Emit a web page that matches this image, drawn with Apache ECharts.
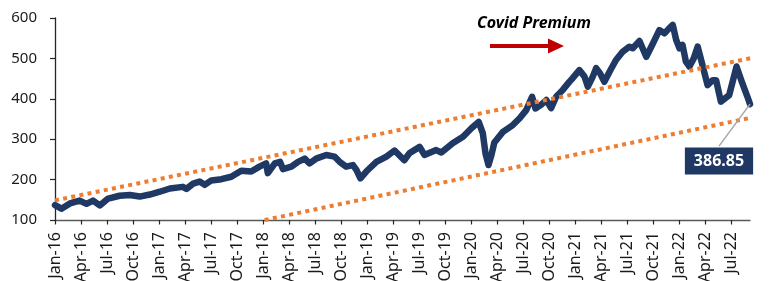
<!DOCTYPE html>
<html lang="en">
<head>
<meta charset="UTF-8">
<title>Covid Premium</title>
<script src="https://cdn.jsdelivr.net/npm/echarts@6/dist/echarts.min.js"></script>
<style>
    html, body { margin: 0; padding: 0; background: #fff; }
    #chart { width: 775px; height: 281px; }
</style>
</head>
<body>
<div id="chart"></div>
<script type="text/javascript">
    // price series
    var dates = [
        '2016-01-01', '2016-01-24', '2016-02-22', '2016-03-27', '2016-04-20', '2016-05-13', '2016-06-06', '2016-07-05',
        '2016-08-15', '2016-09-20', '2016-10-25', '2016-11-29', '2017-01-04', '2017-02-08', '2017-03-24', '2017-04-06',
        '2017-04-29', '2017-05-22', '2017-06-09', '2017-07-02', '2017-08-07', '2017-09-11', '2017-10-16', '2017-11-20',
        '2017-12-19', '2018-01-12', '2018-01-18', '2018-02-11', '2018-02-28', '2018-03-10', '2018-04-09', '2018-05-02',
        '2018-05-26', '2018-06-12', '2018-07-05', '2018-08-10', '2018-09-08', '2018-09-26', '2018-10-19', '2018-11-12',
        '2018-11-24', '2018-12-08', '2018-12-29', '2019-02-03', '2019-03-08', '2019-04-06', '2019-05-10', '2019-05-28',
        '2019-07-03', '2019-07-20', '2019-08-31', '2019-09-18', '2019-10-28', '2019-12-03', '2020-01-02', '2020-01-28',
        '2020-02-11', '2020-02-20', '2020-03-01', '2020-03-12', '2020-03-22', '2020-04-21', '2020-05-26', '2020-06-19',
        '2020-07-12', '2020-08-02', '2020-08-14', '2020-09-03', '2020-09-21', '2020-10-08', '2020-10-26', '2020-11-18',
        '2020-12-11', '2020-12-23', '2021-01-16', '2021-02-03', '2021-02-14', '2021-03-02', '2021-03-14', '2021-03-28',
        '2021-04-12', '2021-04-30', '2021-05-23', '2021-06-16', '2021-07-09', '2021-07-21', '2021-08-14', '2021-09-07',
        '2021-09-30', '2021-10-23', '2021-11-10', '2021-11-27', '2021-12-09', '2021-12-21', '2022-01-02', '2022-01-13',
        '2022-01-25', '2022-02-06', '2022-02-20', '2022-03-05', '2022-03-22', '2022-04-09', '2022-04-27', '2022-05-09',
        '2022-05-26', '2022-06-24', '2022-07-20', '2022-08-10', '2022-08-28', '2022-09-06'
    ]
    var prices = [
        137, 128, 141, 148, 140, 148, 136, 153,
        160, 162, 158, 163, 170, 178, 182, 177,
        190, 195, 187, 198, 201, 207, 222, 220,
        232, 240, 216, 240, 244, 226, 232, 244,
        252, 240, 252, 261, 257, 244, 232, 236,
        224, 203, 220, 244, 257, 272, 248, 265,
        281, 261, 273, 267, 290, 306, 327, 343,
        315, 265, 236, 262, 292, 318, 335, 352,
        372, 405, 376, 385, 397, 377, 405, 422,
        442, 451, 471, 455, 430, 455, 476, 463,
        442, 467, 496, 517, 529, 525, 543, 504,
        537, 570, 562, 575, 583, 546, 525, 533,
        492, 480, 500, 529, 484, 434, 446, 446,
        393, 409, 480, 438, 405, 386.85
    ]
    // dotted trend channel
    var upperDates = ['2016-01-01', '2023-01-01']
    var upperValues = [148.6, 517]
    var lowerDates = ['2018-01-07', '2023-01-01']
    var lowerValues = [100, 370]
    var monthNames = ['Jan', 'Feb', 'Mar', 'Apr', 'May', 'Jun', 'Jul', 'Aug', 'Sep', 'Oct', 'Nov', 'Dec']
    var yTicks = [100, 200, 300, 400, 500, 600]

    var navy = '#203864'
    var orange = '#ED7D31'
    var font = 'Noto Sans'

    // months since Jan-16, so quarter ticks fall on multiples of 3
    function toMonths(d) {
        var p = d.split('-').map(Number)
        var dim = new Date(p[0], p[1], 0).getDate()
        return (p[0] - 2016) * 12 + (p[1] - 1) + (p[2] - 1) / dim
    }
    function pairs(ds, vs) {
        return ds.map(function (d, i) { return [toMonths(d), vs[i]] })
    }
    function tickLabel(v) {
        if (Math.abs(v - Math.round(v / 3) * 3) > 1e-6) return ''
        var y = 16 + Math.floor(v / 12)
        return monthNames[Math.round(v) % 12] + '-' + y
    }

    var priceData = pairs(dates, prices)
    var last = priceData[priceData.length - 1]
    var calloutDx = -31, calloutDy = 57

    var myChart = echarts.init(document.getElementById('chart'))
    var option = {
        animation: false,
        backgroundColor: '#fff',
        grid: {
            left: 55, right: 25, top: 18, bottom: 61,
            containLabel: false,
            outerBoundsMode: 'none'
        },
        xAxis: {
            type: 'value',
            min: 0,
            max: last[0],
            interval: 3,
            axisLine: { show: true, lineStyle: { color: '#595959', width: 1.3 } },
            axisTick: { show: true, length: 4.5, lineStyle: { color: '#262626', width: 1.2 } },
            axisLabel: {
                rotate: 90,
                margin: 12,
                fontFamily: font,
                fontSize: 16,
                color: '#1a1a1a',
                showMaxLabel: false,
                formatter: tickLabel
            },
            splitLine: { show: false }
        },
        yAxis: {
            type: 'value',
            min: yTicks[0],
            max: yTicks[yTicks.length - 1],
            interval: 100,
            axisLine: { show: true, lineStyle: { color: '#262626', width: 1.3 } },
            axisTick: { show: true, length: 5, lineStyle: { color: '#262626', width: 1.2 } },
            axisLabel: { margin: 18, fontFamily: font, fontSize: 15, color: '#1a1a1a' },
            splitLine: { show: false }
        },
        series: [
            {
                name: 'price',
                type: 'line',
                data: priceData,
                symbol: 'none',
                lineStyle: { color: navy, width: 6.5, join: 'round', cap: 'round' },
                z: 2
            },
            {
                name: 'upper',
                type: 'line',
                data: pairs(upperDates, upperValues),
                symbol: 'none',
                clip: false,
                lineStyle: { color: orange, width: 4, type: [4, 4.3], cap: 'butt' },
                z: 3
            },
            {
                name: 'lower',
                type: 'line',
                data: pairs(lowerDates, lowerValues),
                symbol: 'none',
                clip: false,
                lineStyle: { color: orange, width: 4, type: [4, 4.3], cap: 'butt' },
                z: 3
            },
            {
                // last value call-out
                name: 'last',
                type: 'scatter',
                data: [last],
                symbolSize: 0,
                itemStyle: { opacity: 1 },
                z: 4,
                label: {
                    show: true,
                    position: 'inside',
                    formatter: function (p) { return p.value[1].toFixed(2) },
                    backgroundColor: navy,
                    color: '#fff',
                    fontFamily: font,
                    fontWeight: 'bold',
                    fontSize: 16,
                    padding: [6, 9, 5, 9]
                },
                labelLayout: { dx: calloutDx, dy: calloutDy }
            }
        ],
        graphic: [
            {
                type: 'text',
                left: 477, top: 15,
                style: {
                    text: 'Covid Premium',
                    font: 'italic bold 16px "Noto Sans"',
                    fill: '#000'
                }
            },
            {
                type: 'line',
                shape: { x1: 490, y1: 46, x2: 550, y2: 46 },
                style: { stroke: '#C00000', lineWidth: 4 }
            },
            {
                type: 'polygon',
                shape: { points: [[548, 38.5], [564, 46], [548, 53.5]] },
                style: { fill: '#C00000' }
            }
        ]
    }
    myChart.setOption(option)

    // leader line from the last point down to the top of the call-out box
    var pt = myChart.convertToPixel({ gridIndex: 0 }, last)
    myChart.setOption({
        graphic: [{
            id: 'leader',
            type: 'line',
            z: 5,
            shape: { x1: pt[0], y1: pt[1], x2: pt[0] + calloutDx, y2: pt[1] + calloutDy - 15 },
            style: { stroke: '#A6A6A6', lineWidth: 1.5 }
        }]
    })
</script>
</body>
</html>
